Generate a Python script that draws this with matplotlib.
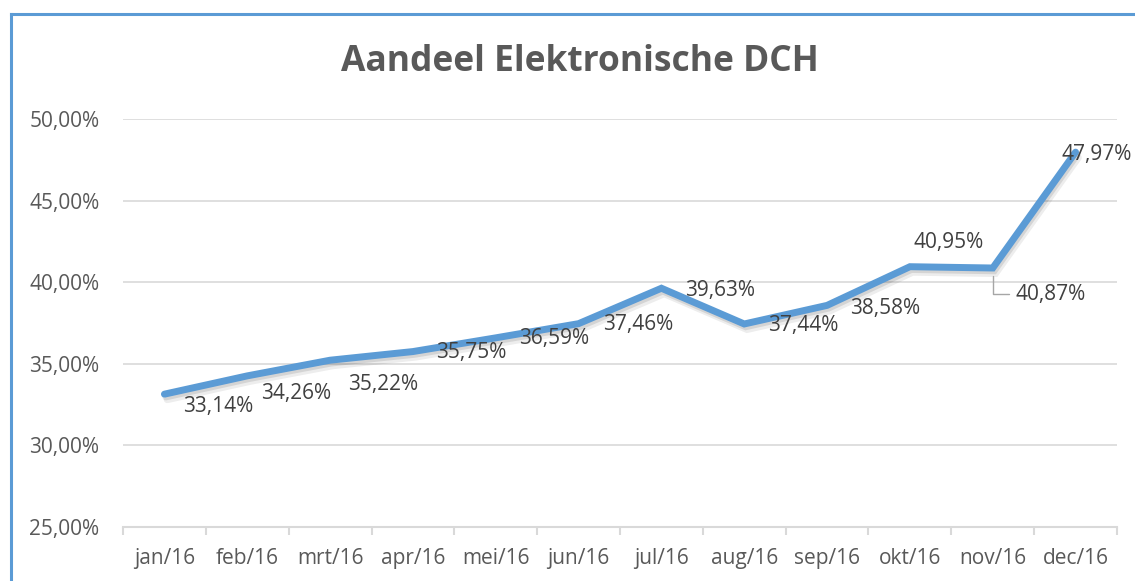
import matplotlib.pyplot as plt
import matplotlib.patheffects as pe
from matplotlib.lines import Line2D

months = ['jan/16', 'feb/16', 'mrt/16', 'apr/16', 'mei/16', 'jun/16',
          'jul/16', 'aug/16', 'sep/16', 'okt/16', 'nov/16', 'dec/16']
aandeel = [33.14, 34.26, 35.22, 35.75, 36.59, 37.46,
           39.63, 37.44, 38.58, 40.95, 40.87, 47.97]
yticks = [25, 30, 35, 40, 45, 50]

# label offsets in pixels (Excel had them dragged around a bit)
offsets = [(19, -12), (14, -18), (18, -24), (23, -1), (23, -1), (24, -1),
           (24, -2), (24, -2), (23, -3), (4, 24), (23, -26), (-14, -2)]

blue = '#5B9BD5'
grey_txt = '#595959'
plt.rcParams['font.family'] = ['Open Sans', 'DejaVu Sans']

fig = plt.figure(figsize=(11.35, 5.81), dpi=100)
ax = fig.add_axes([123 / 1135, 1 - 527 / 581, 994 / 1135, 408 / 581])

x = list(range(len(months)))
shadow = [pe.SimpleLineShadow(offset=(1, -2), shadow_color='#000000', alpha=0.10),
          pe.SimpleLineShadow(offset=(2, -4), shadow_color='#000000', alpha=0.07)]
ax.plot(x, aandeel, color=blue, lw=5, solid_capstyle='round', solid_joinstyle='miter',
        path_effects=shadow + [pe.Normal()], zorder=3)

for i, v in enumerate(aandeel):
    lbl = f'{v:.2f}'.replace('.', ',') + '%'
    kw = {}
    if months[i] == 'nov/16':
        kw['arrowprops'] = dict(arrowstyle='-', color='#A6A6A6', lw=1,
                                connectionstyle='angle,angleA=0,angleB=90,rad=0',
                                relpos=(0, 0.5), shrinkA=3, shrinkB=6)
    ax.annotate(lbl, (i, v), xytext=offsets[i], textcoords='offset pixels',
                ha='left', va='center', fontsize=15, color='#404040', zorder=4,
                annotation_clip=False, **kw)

ax.set_xlim(-0.5, len(months) - 0.5)
ax.set_ylim(25, 50)
ax.set_yticks(yticks)
ax.set_yticklabels([f'{t:.2f}'.replace('.', ',') + '%' for t in yticks])
ax.set_xticks(x)
ax.set_xticklabels(months)
ax.set_xticks([i - 0.5 for i in range(len(months) + 1)], minor=True)

ax.grid(axis='y', color='#D9D9D9', lw=1.2)
ax.set_axisbelow(True)
for s in ['top', 'right', 'left']:
    ax.spines[s].set_visible(False)
ax.spines['bottom'].set_color('#D9D9D9')
ax.spines['bottom'].set_linewidth(1.5)

ax.tick_params(axis='y', length=0, pad=17, labelsize=15, labelcolor=grey_txt)
ax.tick_params(axis='x', which='major', length=0, pad=15, labelsize=15, labelcolor=grey_txt)
ax.tick_params(axis='x', which='minor', length=6, width=1.5, color='#D9D9D9')

fig.text(580 / 1135, 1 - 62 / 581, 'Aandeel Elektronische DCH', ha='center', va='center',
         fontsize=25.5, fontweight='bold', color=grey_txt)

# blue frame around the chart area (cut off at right and bottom)
fig.add_artist(Line2D([11 / 1135, 1], [1 - 14 / 581, 1 - 14 / 581], color=blue, lw=2.2,
                      transform=fig.transFigure))
fig.add_artist(Line2D([11 / 1135, 11 / 1135], [0, 1 - 14 / 581], color=blue, lw=2.2,
                      transform=fig.transFigure))

fig.savefig('out.png', dpi=100)
